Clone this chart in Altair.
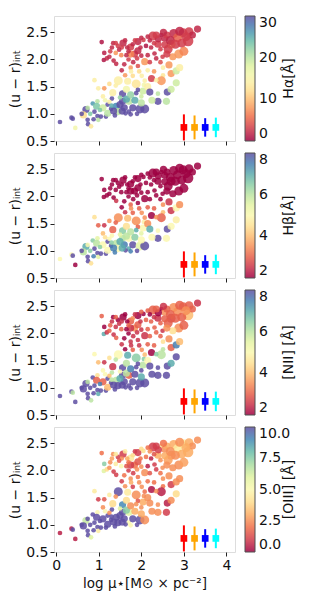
import altair as alt
import pandas as pd

# ---- data (same galaxies in every panel) ----
log_mu = [1.07, 1.34, 1.31, 1.13, 1.27, 1.40, 1.12, 1.19, 1.41, 1.57, 1.54, 1.75, 1.92, 2.05, 2.11, 2.27, 2.47, 2.55, 2.76, 2.98,
          3.32, 3.12, 3.10, 2.70, 2.63, 2.88, 2.74, 2.39, 2.23, 1.84, 1.75, 1.67, 1.53, 1.65, 1.92, 2.00, 2.15, 2.31, 2.45, 2.55,
          2.08, 1.81, 1.60, 1.54, 1.75, 1.92, 1.62, 1.76, 2.01, 2.15, 2.51, 2.70, 2.82, 2.51, 2.24, 2.47, 2.35, 2.82, 2.61, 2.39,
          2.59, 2.39, 1.46, 1.68, 1.88, 2.08, 2.06, 2.04, 2.00, 1.92, 1.88, 1.56, 1.56, 1.33, 1.31, 0.99, 0.90, 1.13, 1.10, 0.97,
          0.86, 0.95, 1.10, 1.21, 1.29, 1.41, 1.45, 1.60, 1.71, 1.71, 1.80, 1.97, 2.08, 1.75, 1.63, 0.70, 0.64, 0.74, 0.75, 0.82,
          0.97, 0.99, 1.17, 1.21, 0.36, 0.39, 0.09, 0.45, 0.74, 0.90, 2.60, 2.85, 2.95, 3.20, 2.40, 2.15, 1.80, 1.45, 2.68, 2.30,
          1.98, 3.00, 2.50, 1.70, 2.20, 1.50, 1.65, 1.35, 1.25, 1.03, 1.50, 2.15, 1.40, 1.80,
          2.90, 3.05, 2.80, 2.52, 2.35, 2.20, 2.00, 1.85, 1.62, 1.40, 1.48, 1.70, 1.90, 2.35, 2.60, 1.25, 1.35, 2.45, 2.65, 2.90,
          2.30, 1.95, 1.25, 1.65, 1.75, 2.20, 2.70, 2.25, 1.85, 1.15, 0.80, 0.60, 1.05, 1.38, 1.90, 2.00, 1.55, 0.88, 1.30]
u_r = [2.32, 2.30, 2.22, 2.12, 2.15, 2.12, 1.99, 2.02, 1.92, 2.30, 2.22, 2.23, 2.33, 2.36, 2.25, 2.43, 2.45, 2.39, 2.48, 2.49,
       2.56, 2.51, 2.34, 2.28, 2.19, 2.10, 2.05, 2.28, 2.22, 2.10, 2.10, 2.22, 2.08, 2.08, 2.16, 2.07, 2.08, 2.11, 2.19, 2.27,
       1.96, 1.95, 1.91, 1.80, 1.85, 1.88, 1.71, 1.78, 1.70, 1.80, 1.85, 1.74, 1.79, 1.71, 1.65, 1.61, 1.62, 1.57, 1.40, 1.37,
       1.23, 1.23, 1.61, 1.60, 1.55, 1.61, 1.53, 1.42, 1.32, 1.44, 1.38, 1.37, 1.23, 1.39, 1.28, 1.47, 1.62, 1.47, 1.32, 1.23,
       1.19, 1.14, 1.11, 1.17, 1.09, 1.14, 1.04, 1.11, 1.23, 1.04, 1.11, 1.09, 1.09, 0.99, 1.01, 1.08, 0.98, 0.89, 0.81, 0.77,
       0.96, 0.89, 0.95, 1.01, 0.93, 0.91, 0.85, 0.74, 1.11, 1.04, 2.45, 2.40, 2.30, 2.45, 2.38, 2.42, 2.28, 2.25, 2.35, 2.30,
       2.22, 2.15, 2.05, 2.00, 1.95, 1.17, 1.27, 1.05, 1.22, 1.07, 1.30, 1.50, 1.52, 1.70,
       2.52, 2.42, 2.28, 2.50, 2.45, 2.35, 2.40, 2.35, 2.35, 2.30, 2.18, 2.15, 2.02, 2.02, 2.10, 2.05, 1.98, 1.95, 1.90, 1.85,
       1.78, 1.78, 1.55, 1.45, 1.35, 1.40, 1.45, 1.25, 1.25, 1.25, 1.00, 1.00, 0.95, 0.97, 1.00, 1.20, 1.05, 0.90, 1.15]
radius = [1, 1, 1, 1, 1, 1, 1, 1, 1, 2, 1, 2, 2, 1, 1, 3, 1, 2, 3, 3,
          2, 3, 4, 3, 3, 3, 2, 2, 1, 2, 2, 1, 1, 1, 2, 1, 1, 1, 1, 2,
          2, 1, 1, 1, 1, 1, 1, 1, 1, 1, 1, 2, 2, 1, 2, 3, 1, 2, 2, 1,
          2, 2, 3, 2, 3, 1, 1, 2, 1, 1, 1, 2, 2, 2, 1, 1, 1, 1, 1, 1,
          1, 2, 2, 1, 1, 2, 2, 2, 2, 1, 2, 3, 3, 1, 1, 2, 2, 1, 1, 1,
          1, 1, 1, 2, 1, 1, 1, 1, 1, 1, 2, 3, 3, 2, 2, 1, 1, 1, 3, 1,
          1, 3, 1, 1, 1, 2, 2, 2, 1, 1, 1, 2, 1, 1,
          3, 3, 3, 2, 2, 1, 1, 1, 1, 1, 1, 1, 1, 1, 2, 1, 1, 1, 2, 2,
          1, 1, 1, 2, 2, 2, 2, 2, 2, 1, 1, 1, 1, 1, 1, 2, 2, 1, 1]
ew_ha = [1, 2, 2, 1.5, 3, 8, 1, 2, 2, 2, 3, 3, 2, 3, 1, 3, 1, 2, 2, 3,
         2, 3, 3, 8, 3, 8, 8, 3, 2, 3, 7, 2, 7, 2, 2, 2, 2, 2, 3, 3,
         8, 2, 2, 2, 8, 4, 8, 14, 14, 14, 14, 8, 19, 13, 3, 8, 14, 19, 30, 20,
         20, 30, 14, 14, 13, 14, 16, 19, 19, 30, 30, 30, 30, 14, 30, 14, 14, 8, 14, 20,
         26, 23, 19, 30, 30, 27, 20, 30, 20, 30, 30, 30, 30, 30, 30, 30, 12, 30, 30, 13,
         30, 20, 30, 20, 30, 30, 30, 16, 20, 30, 3, 5, 3, 2, 2, 2, 2, 3, 2, 3,
         2, 7, 3, 3, 3, 30, 25, 30, 14, 23, 22, 14, 14, 12,
         2, 3, 3, 2, 3, 2, 2, 3, 2, 3, 2, 2, 3, 2, 3, 2, 2, 4, 8, 14,
         8, 12, 12, 16, 22, 30, 19, 19, 25, 16, 23, 30, 30, 30, 30, 20, 30, 30, 25]
ew_hb = [1.5, 1.5, 1.5, 1.5, 1.5, 1.5, 1.5, 1.5, 2.5, 1.5, 1.5, 1.5, 1.5, 1.5, 1.5, 1.5, 1.5, 1.5, 1.5, 1.5,
         1.5, 1.5, 1.5, 1.5, 1.5, 1.5, 1.5, 1.5, 1.5, 1.5, 1.5, 1.5, 1.5, 1.5, 1.5, 1.5, 1.5, 1.5, 1.5, 1.5,
         1.5, 1.5, 1.5, 2.0, 3.0, 1.5, 2.5, 3.5, 3.5, 3.0, 3.5, 2.5, 5.0, 4.0, 2.0, 3.0, 3.5, 4.8, 8.0, 5.0,
         5.0, 8.0, 3.5, 4.0, 3.5, 3.5, 4.8, 5.0, 5.5, 3.0, 7.0, 6.5, 6.0, 3.0, 5.0, 3.0, 4.5, 2.5, 4.0, 5.5,
         6.5, 6.0, 5.0, 8.0, 8.0, 6.0, 5.0, 7.5, 5.0, 7.0, 8.0, 5.5, 8.0, 7.5, 8.0, 7.0, 6.0, 8.0, 8.0, 4.5,
         8.0, 5.5, 8.0, 5.0, 5.0, 8.0, 5.0, 2.0, 5.0, 8.0, 1.5, 1.5, 1.5, 1.5, 1.5, 1.5, 1.5, 1.5, 1.5, 1.5,
         1.5, 1.5, 1.5, 1.5, 2.0, 7.0, 6.0, 7.5, 5.0, 6.5, 5.5, 3.5, 3.0, 3.0,
         1.5, 1.5, 1.5, 1.5, 1.5, 1.5, 1.5, 1.5, 1.5, 1.5, 1.5, 1.5, 1.5, 1.5, 1.5, 1.5, 2.0, 2.0, 2.5, 3.5,
         3.0, 3.0, 3.5, 4.5, 6.0, 7.0, 5.0, 5.0, 6.5, 4.5, 6.5, 8.0, 8.0, 7.5, 8.0, 5.0, 7.0, 7.5, 6.5]
ew_nii = [3.0, 2.0, 2.5, 2.0, 3.0, 2.5, 7.0, 2.5, 3.0, 1.5, 2.5, 3.0, 1.5, 2.0, 3.0, 3.0, 2.0, 3.5, 3.5, 3.0,
          2.5, 3.0, 4.0, 2.5, 3.0, 3.5, 4.5, 2.5, 3.0, 3.5, 2.5, 2.0, 3.0, 2.0, 3.0, 2.5, 3.0, 3.0, 3.0, 3.0,
          2.5, 2.5, 2.0, 2.5, 2.5, 2.5, 2.0, 2.5, 3.5, 3.0, 4.5, 3.0, 7.5, 6.0, 2.0, 6.0, 6.5, 8.0, 8.0, 8.0,
          8.0, 8.0, 5.0, 7.0, 6.5, 4.0, 6.5, 6.0, 8.0, 8.0, 8.0, 8.0, 8.0, 2.5, 6.0, 4.0, 5.0, 2.5, 5.0, 4.5,
          8.0, 3.0, 3.0, 8.0, 8.0, 6.0, 8.0, 8.0, 3.0, 8.0, 8.0, 8.0, 8.0, 8.0, 8.0, 8.0, 8.0, 8.0, 8.0, 6.0,
          8.0, 7.0, 8.0, 4.0, 8.0, 6.0, 8.0, 8.0, 6.0, 8.0, 3.0, 3.5, 3.0, 3.0, 2.0, 3.0, 3.5, 2.0, 3.0, 2.5,
          2.5, 3.0, 2.5, 2.0, 3.0, 7.0, 6.0, 8.0, 4.0, 7.5, 5.0, 5.0, 6.0, 3.0,
          3.0, 3.5, 3.0, 2.5, 3.0, 2.0, 3.0, 2.5, 2.0, 3.0, 2.5, 3.0, 2.5, 3.0, 3.5, 3.0, 2.5, 3.0, 3.5, 4.0,
          3.0, 2.5, 4.5, 6.0, 7.5, 8.0, 7.0, 8.0, 8.0, 5.0, 8.0, 8.0, 8.0, 8.0, 8.0, 7.0, 8.0, 8.0, 6.0]
ew_oiii = [2.0, 2.5, 2.8, 7.5, 2.5, 4.5, 6.0, 4.0, 1.0, 1.0, 2.5, 4.5, 1.0, 4.0, 2.0, 1.0, 4.5, 2.5, 3.0, 4.5,
           2.5, 3.0, 3.0, 2.5, 2.8, 2.5, 2.5, 3.0, 0.5, 2.0, 1.0, 3.0, 5.0, 1.5, 1.5, 2.5, 0.5, 1.0, 2.5, 3.0,
           2.5, 1.0, 2.0, 1.0, 2.5, 2.0, 2.5, 3.0, 2.5, 2.0, 2.5, 1.0, 2.5, 2.0, 0.3, 0.5, 2.5, 4.0, 0.5, 2.5,
           1.0, 2.5, 10, 4.5, 2.5, 2.0, 2.5, 3.0, 2.5, 1.5, 2.5, 9.0, 10, 4.0, 10, 1.0, 4.5, 1.5, 2.5, 5.0,
           10, 10, 10, 10, 10, 10, 10, 10, 6.0, 5.0, 10, 10, 2.5, 5.0, 10, 6.5, 10, 10, 10, 6.0,
           10, 4.5, 10, 10, 0.5, 10, 0.5, 0.5, 10, 10, 3.0, 4.5, 3.0, 2.5, 1.0, 2.0, 4.0, 1.0, 2.5, 1.5,
           2.0, 2.8, 2.5, 1.0, 1.5, 10, 7.5, 10, 2.5, 10, 6.0, 2.5, 2.5, 1.0,
           2.5, 3.0, 2.5, 2.0, 1.0, 2.5, 4.0, 1.0, 4.5, 4.5, 1.5, 2.0, 2.5, 1.0, 2.5, 2.5, 1.0, 2.0, 2.5, 2.5,
           2.0, 2.5, 4.5, 4.0, 2.5, 2.5, 2.5, 2.5, 3.0, 5.0, 10, 10, 10, 10, 10, 3.0, 10, 10, 10]

# typical uncertainties shown in the lower right corner
err_x = [3.0, 3.25, 3.5, 3.75]
err_y = [0.75, 0.75, 0.75, 0.75]
err_dy = [0.24, 0.22, 0.17, 0.18]
err_band = ["a", "b", "c", "d"]

cbar_titles = ["Hα[Å]", "Hβ[Å]", "[NII] [Å]", "[OIII] [Å]"]

df = pd.DataFrame({"logmu": log_mu, "ur": u_r, "re": radius,
                   "ha": ew_ha, "hb": ew_hb, "nii": ew_nii, "oiii": ew_oiii})
edf = pd.DataFrame({"x": err_x, "y": err_y, "lo": [a - b for a, b in zip(err_y, err_dy)],
                    "hi": [a + b for a, b in zip(err_y, err_dy)], "band": err_band})

FONT = "DejaVu Sans"
W, H = 181, 125
FS = 14
err_colors = alt.Scale(domain=err_band, range=["#ff0000", "#ffa500", "#0000ff", "#00ffff"])


def panel(field, title, domain, values, fmt, last):
    xaxis = alt.Axis(values=[0, 1, 2, 3, 4], labels=last, title="log μ⋆[M⊙ × pc⁻²]" if last else None,
                     format="d", grid=False, domain=False, ticks=True, tickSize=4, tickColor="#222",
                     labelFontSize=FS, titleFontSize=13.5, titleFontWeight="normal", labelPadding=2,
                     titlePadding=4, labelColor="#111", titleColor="#111")
    yaxis = alt.Axis(values=[0.5, 1.0, 1.5, 2.0, 2.5], format=".1f", title="(u − r)ᵢₙₜ", grid=False,
                     domain=False, tickSize=4, tickColor="#222", labelFontSize=FS, titleFontSize=FS,
                     titleFontWeight="normal", labelPadding=2, titlePadding=3, labelColor="#111",
                     titleColor="#111")
    xs = alt.Scale(domain=[-0.05, 4.2], nice=False, zero=False)
    ys = alt.Scale(domain=[0.5, 2.8], nice=False, zero=False)
    pts = alt.Chart(df).mark_circle(opacity=0.85).encode(
        x=alt.X("logmu:Q", scale=xs, axis=xaxis),
        y=alt.Y("ur:Q", scale=ys, axis=yaxis),
        color=alt.Color(f"{field}:Q",
                        scale=alt.Scale(scheme="spectral", domain=domain, clamp=True),
                        legend=alt.Legend(title=None, orient="right", offset=10, gradientLength=H,
                                          gradientThickness=10, gradientStrokeColor="#333",
                                          gradientStrokeWidth=1, values=values, format=fmt,
                                          labelFontSize=FS, labelColor="#111", labelOffset=4,
                                          labelBaseline="middle", labelOverlap=False)),
        size=alt.Size("re:Q", scale=alt.Scale(domain=[1, 4], range=[22, 110]), legend=None),
    )
    bars = alt.Chart(edf).mark_rule(strokeWidth=2, clip=True).encode(
        x=alt.X("x:Q", scale=xs, axis=xaxis),
        y=alt.Y("lo:Q", scale=ys, axis=yaxis),
        y2="hi:Q",
        color=alt.Color("band:N", scale=err_colors, legend=None),
    )
    marks = alt.Chart(edf).mark_square(size=45, opacity=1).encode(
        x=alt.X("x:Q", scale=xs, axis=xaxis),
        y=alt.Y("y:Q", scale=ys, axis=yaxis),
        color=alt.Color("band:N", scale=err_colors, legend=None),
    )
    ttl = alt.Chart(pd.DataFrame({"t": [title]})).mark_text(
        angle=270, align="center", baseline="middle", fontSize=FS, color="#111", font=FONT
    ).encode(text="t:N", x=alt.value(W + 54), y=alt.value(H / 2))
    return alt.layer(pts, bars, marks, ttl).resolve_scale(color="independent").properties(width=W, height=H)


chart = alt.vconcat(
    panel("ha", cbar_titles[0], [0, 30], [0, 10, 20, 30], "d", False),
    panel("hb", cbar_titles[1], [2, 8], [2, 4, 6, 8], "d", False),
    panel("nii", cbar_titles[2], [2, 8], [2, 4, 6, 8], "d", False),
    panel("oiii", cbar_titles[3], [0, 10], [0, 2.5, 5, 7.5, 10], ".1f", True),
    spacing=12, bounds="flush",
).configure_view(stroke="#333", strokeWidth=1).configure(font=FONT, padding={"left": 0, "top": 7, "right": 0, "bottom": 4})

chart.save("out.html", embed_options={"renderer": "svg", "actions": False})
